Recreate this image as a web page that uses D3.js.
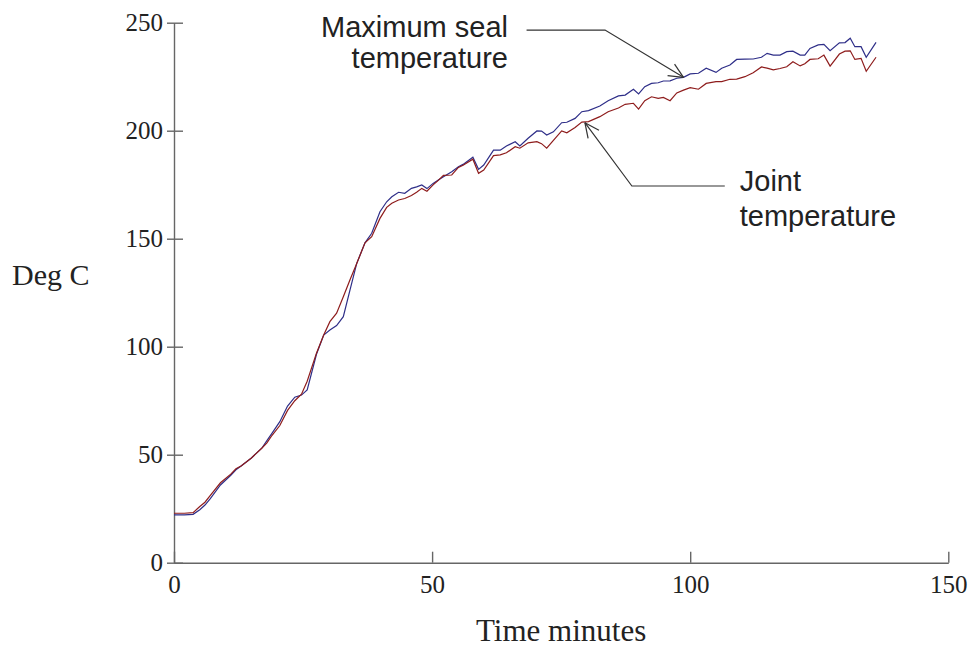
<!DOCTYPE html>
<html lang="en">
<head>
<meta charset="utf-8">
<title>Seal and joint temperature</title>
<script src="https://d3js.org/d3.v7.min.js"></script>
<style>
  body { margin: 0; background: #fff; }
  svg { display: block; }
</style>
</head>
<body>
<div id="chart"></div>
<script>
// time in minutes
const minutes = [0, 2, 3.7, 5, 6, 7, 9, 11, 12, 13, 15, 17, 18, 19, 20.5, 22, 23.4, 24.7, 25.8, 27.6,
  29, 30.2, 31.5, 32.8, 34.1, 35.4, 37, 38.3, 39.9, 41.2, 42.2, 43.5, 44.7, 46, 47, 48, 49, 50.2, 51.2, 52.2,
  53.8, 55.1, 56, 57.9, 59, 60, 61.9, 63.2, 64.4, 66.1, 67, 68.6, 70.3, 71.2, 72.2, 73.5, 75.1, 76.1, 77.7, 79,
  80.3, 82.5, 84.1, 86.1, 87.4, 89, 90, 91.2, 92.5, 93.8, 94.8, 96.1, 97.4, 98.7, 100, 101.6, 103.1, 105, 106.1, 107.7,
  109, 110.6, 112.2, 113.8, 114.9, 116.1, 117.4, 118.7, 119.9, 121.3, 122.2, 123.2, 124.8, 125.9, 127.1, 128.9, 130, 131, 131.9, 133.1,
  134.1, 136];

// maximum seal temperature (blue)
const sealTemp = [22.1, 22.1, 22.4, 24.5, 26.7, 29.5, 36, 40.5, 43, 44.8, 48.5, 53, 56.5, 60, 65.3, 72.5, 76.6, 77.6, 80, 96.5,
  105.4, 107.7, 109.8, 113.9, 126.3, 138.6, 148.1, 152.5, 162.5, 167.1, 169.4, 171.5, 171, 173.3, 174, 174.9, 173.2, 175.6, 177.2, 178.7,
  181, 183.3, 184.4, 187.7, 182.1, 184.1, 191, 191, 192.9, 194.9, 192.9, 196.5, 199.9, 199.8, 198, 199.5, 203.7, 203.9, 205.7, 208.8,
  209.3, 211.4, 213.9, 216.1, 216.5, 219.2, 217, 220.4, 221.9, 222.2, 223, 223.1, 224.3, 224.7, 226.3, 226.6, 228.9, 227, 228.9, 230.4,
  233, 233.1, 233.2, 234, 235.8, 235, 235, 236.6, 236.8, 235, 235, 238.1, 239.7, 240, 237, 240.7, 240.8, 242.8, 238.9, 238.9,
  234, 240.9];

// joint temperature (red)
const jointTemp = [22.9, 22.9, 23.2, 26, 28, 31, 37, 41, 43.5, 44.8, 48.5, 53, 55.5, 59, 63.5, 70.5, 75, 78, 84, 97,
  105.4, 111.6, 115.5, 123.1, 131, 138.5, 148.1, 150.9, 159.4, 164.5, 166.4, 167.9, 168.6, 170, 171.5, 173.3, 172, 174.9, 177, 179.3,
  179.5, 183, 184, 186.8, 180.3, 181.8, 188.5, 188.8, 189.8, 192.6, 191.9, 194.4, 194.9, 194, 191.9, 195.5, 199.9, 199, 201.5, 204,
  204.2, 206.5, 208.8, 210.5, 212.2, 212.7, 210, 213.9, 215.7, 215, 215.4, 213.9, 217.5, 218.8, 219.9, 219.2, 221.9, 222.7, 222.7, 223.8,
  223.9, 225, 226.8, 229.5, 229, 228.2, 228.8, 229.6, 231.9, 230, 231, 233, 233.3, 235, 229.9, 235.5, 236.8, 237, 233, 233.5,
  227.5, 234];

const xTicks = [0, 50, 100, 150];
const yTicks = [0, 50, 100, 150, 200, 250];

const width = 972, height = 649;
const margin = {top: 22.7, right: 23.7, bottom: 86.3, left: 174};

const svg = d3.select("#chart")
  .append("svg")
    .attr("width", width)
    .attr("height", height);

const x = d3.scaleLinear().domain([0, 150]).range([margin.left, width - margin.right]);
const y = d3.scaleLinear().domain([0, 250]).range([height - margin.bottom, margin.top]);

const axisColor = "#666";
const serif = "'Liberation Serif', 'Times New Roman', serif";
const sans = "'Liberation Sans', Arial, sans-serif";

// y axis - ticks cross the axis line
svg.append("g")
  .attr("transform", `translate(${margin.left},0)`)
  .call(d3.axisLeft(y).tickValues(yTicks).tickSize(7).tickSizeOuter(0).tickPadding(4))
  .call(g => g.select(".domain").attr("stroke", axisColor).attr("stroke-width", 1.4))
  .call(g => g.selectAll(".tick line").attr("stroke", axisColor).attr("stroke-width", 1.4)
    .attr("x1", 9).attr("x2", -7))
  .call(g => g.selectAll(".tick text")
    .attr("font-family", serif)
    .attr("font-size", 25)
    .attr("fill", "#222"));

// x axis - ticks point up into the plot
svg.append("g")
  .attr("transform", `translate(0,${y(0)})`)
  .call(d3.axisBottom(x).tickValues(xTicks).tickSizeOuter(0))
  .call(g => g.select(".domain").attr("stroke", axisColor).attr("stroke-width", 1.4))
  .call(g => g.selectAll(".tick line").attr("stroke", axisColor).attr("stroke-width", 1.4)
    .attr("y1", 0).attr("y2", -11))
  .call(g => g.selectAll(".tick text")
    .attr("font-family", serif)
    .attr("font-size", 25)
    .attr("fill", "#222")
    .attr("y", 30)
    .attr("dy", null));

// axis titles
svg.append("text")
  .attr("x", 12)
  .attr("y", 285)
  .attr("font-family", serif)
  .attr("font-size", 30)
  .attr("fill", "#222")
  .text("Deg C");

svg.append("text")
  .attr("x", (x(0) + x(150)) / 2)
  .attr("y", 641)
  .attr("text-anchor", "middle")
  .attr("font-family", serif)
  .attr("font-size", 31)
  .attr("fill", "#222")
  .text("Time minutes");

// the two series
const line = d3.line()
  .x((d, i) => x(minutes[i]))
  .y(d => y(d));

svg.append("path")
  .datum(sealTemp)
  .attr("fill", "none")
  .attr("stroke", "#2e2e88")
  .attr("stroke-width", 1.2)
  .attr("d", line);

svg.append("path")
  .datum(jointTemp)
  .attr("fill", "none")
  .attr("stroke", "#8e1c1c")
  .attr("stroke-width", 1.2)
  .attr("d", line);

// annotations (in data units): leader path ends at the arrow tip
const notes = [
  {lines: ["Maximum seal", "temperature"], tx: 64.7, ty: [243.2, 229.1], anchor: "end",
   path: [[68.3, 246.6], [83.5, 246.6], [98.7, 224.7]]},
  {lines: ["Joint", "temperature"], tx: 109.6, ty: [172.1, 155.9], anchor: "start",
   path: [[106.7, 174.4], [88.7, 174.4], [79.6, 203.7]]}
];

notes.forEach(n => {
  const pts = n.path.map(p => [x(p[0]), y(p[1])]);
  svg.append("path")
    .attr("d", d3.line()(pts))
    .attr("fill", "none")
    .attr("stroke", "#333")
    .attr("stroke-width", 1.2);

  // open arrow head
  const tip = pts[pts.length - 1], prev = pts[pts.length - 2];
  const ang = Math.atan2(prev[1] - tip[1], prev[0] - tip[0]);
  const len = 16, spread = 25 * Math.PI / 180;
  [-spread, spread].forEach(s => {
    svg.append("line")
      .attr("x1", tip[0]).attr("y1", tip[1])
      .attr("x2", tip[0] + len * Math.cos(ang + s))
      .attr("y2", tip[1] + len * Math.sin(ang + s))
      .attr("stroke", "#333")
      .attr("stroke-width", 1.2);
  });

  n.lines.forEach((t, i) => {
    svg.append("text")
      .attr("x", x(n.tx))
      .attr("y", y(n.ty[i]))
      .attr("text-anchor", n.anchor)
      .attr("font-family", sans)
      .attr("font-size", 29)
      .attr("fill", "#222")
      .text(t);
  });
});
</script>
</body>
</html>
